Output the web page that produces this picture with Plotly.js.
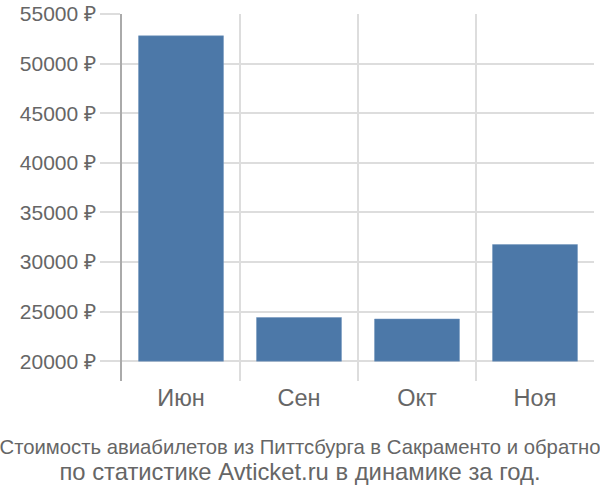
<!DOCTYPE html>
<html>
<head>
<meta charset="utf-8">
<script src="https://cdn.plot.ly/plotly-3.0.1.min.js"></script>
<style>
  body { margin: 0; }
  #chart { width: 600px; height: 500px; }
</style>
</head>
<body>
<div id="chart"></div>
<script>
var months = ['Июн', 'Сен', 'Окт', 'Ноя'];
var prices = [52800, 24400, 24250, 31750];
var baseline = 20000;
var yTicks = [20000, 25000, 30000, 35000, 40000, 45000, 50000, 55000];
var yLabels = yTicks.map(function (v) { return v + ' ₽'; });
var titleLines = [
    'Стоимость авиабилетов из Питтсбурга в Сакраменто и обратно',
    'по статистике Avticket.ru в динамике за год.'
];

var data = [
    {
        x: months,
        y: prices.map(function (v) { return v - baseline; }),
        base: baseline,
        customdata: prices,
        type: 'bar',
        width: 0.72,
        marker: {color: '#4c78a8', line: {color: '#6e93bd', width: 0.5}},
        hovertemplate: '%{x}: %{customdata} ₽<extra></extra>'
    }
];

var layout = {
    width: 600,
    height: 500,
    margin: {l: 122, r: 6, t: 14, b: 119},
    paper_bgcolor: '#fff',
    plot_bgcolor: '#fff',
    showlegend: false,
    font: {family: '"Liberation Sans", Arial, sans-serif', color: '#666'},
    title: {
        // the first line is too long for 600px at full size, so it is set smaller
        text: titleLines[0] + '<br><span style="font-size:23.8px">' + titleLines[1] + '</span>',
        font: {family: '"Liberation Sans", Arial, sans-serif', size: 20.3, color: '#666'},
        x: 0.5,
        xref: 'container',
        y: 0.092,
        yref: 'container',
        yanchor: 'middle'
    },
    xaxis: {
        type: 'category',
        tickson: 'boundaries',
        showgrid: true,
        gridcolor: '#ddd',
        gridwidth: 1.5,
        ticks: '',
        tickfont: {size: 23.5, color: '#666'},
        showline: false,
        zeroline: false
    },
    yaxis: {
        range: [18000, 55000],
        tickvals: yTicks,
        ticktext: yLabels,
        showgrid: true,
        gridcolor: '#ddd',
        gridwidth: 1.5,
        ticks: 'outside',
        ticklen: 20,
        tickcolor: '#ddd',
        tickwidth: 1.5,
        tickfont: {size: 21, color: '#666'},
        showline: true,
        linecolor: '#aaa',
        linewidth: 1.5,
        zeroline: false
    }
};

Plotly.newPlot('chart', data, layout, {displayModeBar: false});
</script>
</body>
</html>
